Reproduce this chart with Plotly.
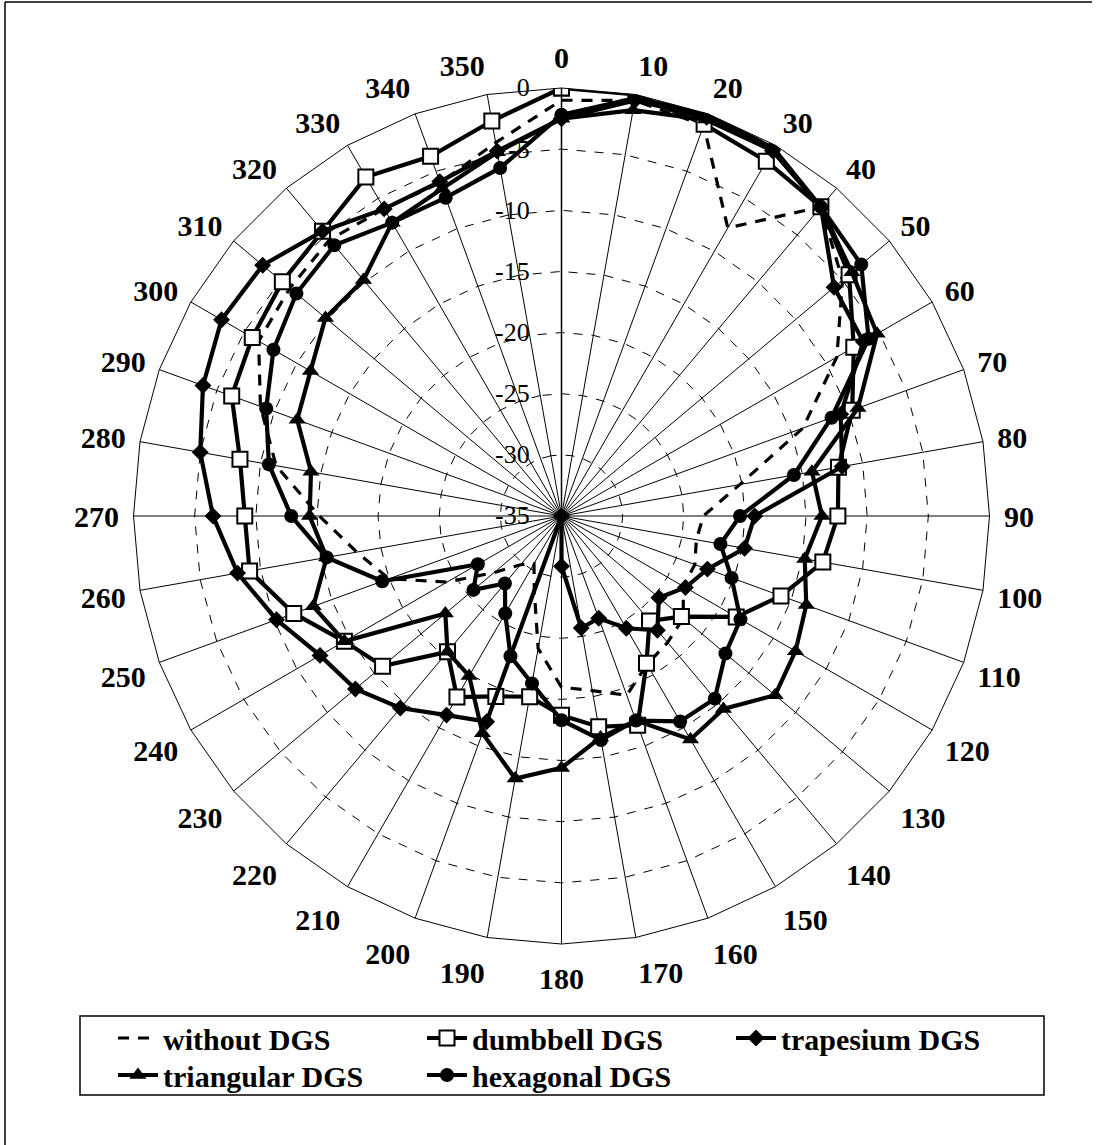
import plotly.graph_objects as go

# Azimuth angles (degrees) of the measured radiation pattern
angles = list(range(0, 360, 10))

# Normalised gain (dB) for each structure, one value per angle
without_dgs = [-1, -0.5, -1, -7.8, -2, -5, -9, -14, -20.2, -23.4, -23.8, -23.4,
               -23.5, -22, -21.5, -21, -19.4, -20.5, -21, -24, -28.5, -30.5, -29.8, -27.8,
               -24.2, -20, -18, -15.2, -11.3, -8.8, -6.4, -6, -5.5, -6, -6, -4]
dumbbell = [0, 0, -0.9, -1.5, -2, -4.3, -7.4, -9.7, -12, -12.4, -13.3, -15.9,
            -18.5, -22.2, -23.8, -21.1, -16.8, -17.5, -18.7, -20, -19.3, -17.9, -20.5, -15.9,
            -14.5, -11.7, -9.1, -9.1, -8.3, -6.3, -5.8, -5.2, -4.6, -3, -3.7, -2.2]
trapesium = [-2.5, -0.5, -0.3, -0.5, -2, -5.9, -6.5, -10.7, -11.7, -19.2, -19.8, -22.3,
             -23.3, -24.6, -22.8, -24.4, -26.1, -25.7, -30.9, -35, -17.1, -16.2, -14.5, -13,
             -12.2, -10.2, -8.1, -6.5, -5, -3.8, -2.9, -3.1, -4.6, -6, -5.9, -4.7]
triangular = [-2.5, -1.3, -0.5, -0.5, -2, -4, -5.2, -9.2, -14.2, -13.7, -14.8, -13.7,
              -12.9, -12.2, -14.4, -13.9, -17.2, -16.6, -14.4, -13.2, -16.1, -19.9, -20.5, -22.6,
              -14.5, -13.4, -15.5, -14.4, -14.2, -12, -11.3, -9.8, -9.8, -7.3, -6.5, -4.8]
hexagonal = [-2.2, -0.3, 0, -0.3, -2, -3, -6, -11.5, -15.7, -20.4, -21.8, -20.2,
             -18.1, -17.5, -15.5, -15.6, -17.2, -16.4, -18.3, -21.1, -22.8, -25.8, -27.8, -25.6,
             -27.1, -19.4, -15.5, -12.9, -10.7, -9.3, -7.8, -6.7, -6.1, -7.3, -7.3, -6.1]

radial_ticks = [-35, -30, -25, -20, -15, -10, -5, 0]
radial_labels = ["-35", "-30", "-25", "-20", "-15", "-10", "-5", "0"]

theta = [str(a) for a in angles] + [str(angles[0])]


def closed(values):
    return list(values) + [values[0]]


SERIF = "Liberation Serif, Times New Roman, serif"
LW = 4.2

# name, values, line style, marker style, legend row
series = [
    ("without DGS", without_dgs, dict(color="black", width=3.2, dash="11px,9px"), None, "legend"),
    ("dumbbell DGS", dumbbell, dict(color="black", width=LW),
     dict(symbol="square", size=15, color="white", line=dict(color="black", width=2)), "legend"),
    ("trapesium DGS", trapesium, dict(color="black", width=LW),
     dict(symbol="diamond", size=13, color="black"), "legend"),
    ("triangular DGS", triangular, dict(color="black", width=LW),
     dict(symbol="triangle-up", size=15, color="black"), "legend2"),
    ("hexagonal DGS", hexagonal, dict(color="black", width=LW),
     dict(symbol="circle", size=14, color="black"), "legend2"),
]

fig = go.Figure()
for name, vals, line, marker, leg in series:
    kw = dict(r=closed(vals), theta=theta, name=name, line=line,
              cliponaxis=True, legend=leg)
    if marker is None:
        fig.add_trace(go.Scatterpolar(mode="lines", **kw))
    else:
        fig.add_trace(go.Scatterpolar(mode="lines+markers", marker=marker, **kw))

cx, cy, R = 561.5, 516, 428
W, H = 1099, 1145

legend_style = dict(
    orientation="h",
    xanchor="left", yanchor="middle",
    bgcolor="rgba(0,0,0,0)", borderwidth=0,
    font=dict(family=SERIF, size=30, color="black", weight="bold"),
    itemwidth=40,
    entrywidth=254, entrywidthmode="pixels",
)

fig.update_layout(
    width=W, height=H,
    paper_bgcolor="white",
    margin=dict(l=0, r=0, t=0, b=0),
    showlegend=True,
    polar=dict(
        domain=dict(x=[(cx - R) / W, (cx + R) / W],
                    y=[(H - cy - R) / H, (H - cy + R) / H]),
        bgcolor="white",
        gridshape="linear",
        angularaxis=dict(
            type="category",
            categoryorder="array",
            categoryarray=[str(a) for a in angles],
            rotation=90,
            direction="clockwise",
            showline=True, linecolor="black", linewidth=1,
            gridcolor="black", gridwidth=0.8,
            ticks="outside", ticklen=8, tickcolor="rgba(0,0,0,0)",
            tickfont=dict(family=SERIF, size=30, color="black", weight="bold"),
        ),
        radialaxis=dict(
            range=[-35, 0],
            angle=90,
            tickangle=90,
            side="counterclockwise",
            tickvals=radial_ticks, ticktext=radial_labels,
            showline=True, linecolor="black", linewidth=1.5,
            ticks="outside", ticklen=22, tickcolor="rgba(0,0,0,0)",
            gridcolor="black", gridwidth=0.8, griddash="dash",
            tickfont=dict(family=SERIF, size=26, color="black"),
        ),
    ),
    legend=dict(legend_style, x=113 / W, y=1 - 1038 / H),
    legend2=dict(legend_style, x=113 / W, y=1 - 1075 / H),
)

# Legend box
fig.add_shape(type="rect", xref="paper", yref="paper",
              x0=80 / W, x1=1044 / W, y0=1 - 1095 / H, y1=1 - 1016 / H,
              line=dict(color="black", width=1.5), layer="below")

# Frame around the whole picture
fig.add_shape(type="line", xref="paper", yref="paper", x0=5 / W, x1=1092 / W,
              y0=1 - 2 / H, y1=1 - 2 / H, line=dict(color="black", width=1.5))
fig.add_shape(type="line", xref="paper", yref="paper", x0=5 / W, x1=5 / W,
              y0=0, y1=1 - 2 / H, line=dict(color="black", width=1.5))

fig.write_html("out.html")
